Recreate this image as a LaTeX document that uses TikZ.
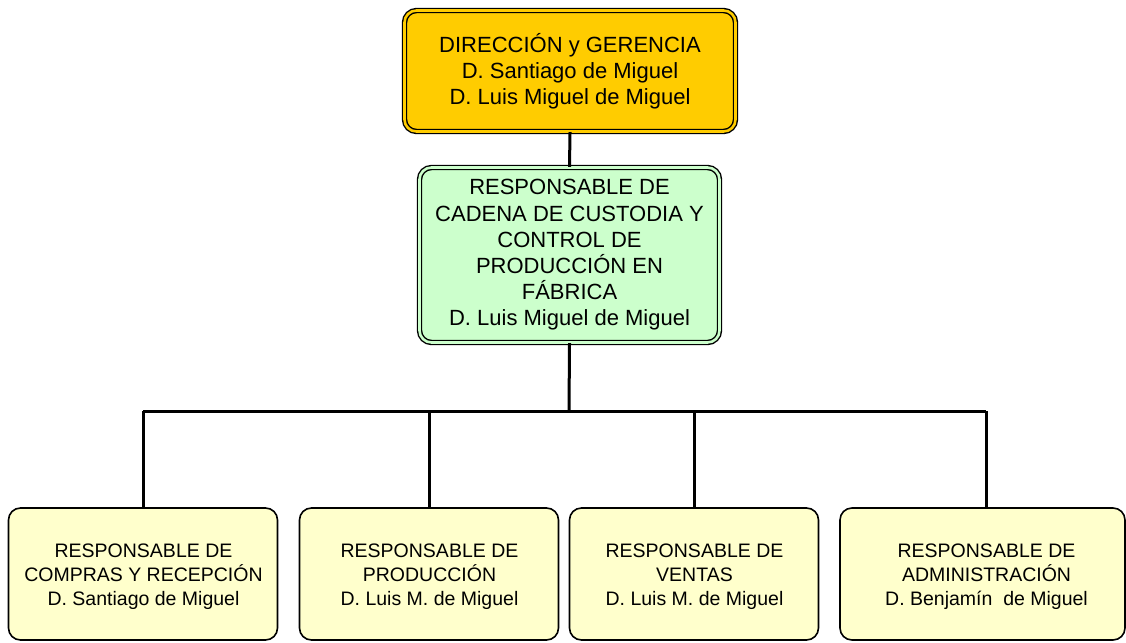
\documentclass[tikz,border=0pt]{standalone}
\usepackage{fontspec}
\setmainfont{Liberation Sans}
\definecolor{gold}{HTML}{FFCC00}
\definecolor{mint}{HTML}{CCFFCC}
\definecolor{cream}{HTML}{FFFFCC}
\begin{document}
\begin{tikzpicture}[x=1pt,y=-1pt,
  dbox/.style={draw=black, line width=1.4pt, double distance=2.6pt, rounded corners=12pt, align=center, inner sep=0pt},
  lowfont/.style={font=\fontsize{19.5}{24}\selectfont, align=center, inner sep=0pt},
  lowbox/.style={draw=black, line width=1.6pt, fill=cream, rounded corners=12pt, inner sep=0pt, minimum height=132pt},
  link/.style={line width=3pt}]
\useasboundingbox (0,0) rectangle (1126,642);
\clip (0,0) rectangle (1126,642);
\coordinate (hl) at (143,411);
\coordinate (h2) at (429,411);
\coordinate (h3) at (694,411);
\coordinate (hr) at (986,411);
\coordinate (hm) at (569,411);
\node[dbox, fill=gold, double=gold, minimum width=331pt, minimum height=121pt,
      font=\fontsize{22}{26}\selectfont] (top) at (570,71)
  {DIRECCIÓN y GERENCIA\\ D. Santiago de Miguel\\ D. Luis Miguel de Miguel};
\node[dbox, fill=mint, double=mint, minimum width=300pt, minimum height=175pt,
      font=\fontsize{22}{26.2}\selectfont] (mid) at (569.5,255)
  {RESPONSABLE DE\\ CADENA DE CUSTODIA Y\\ CONTROL DE\\ PRODUCCIÓN EN\\ FÁBRICA\\ D. Luis Miguel de Miguel};
\node[lowbox, minimum width=269pt] (b1) at (143,574) {};
\node[lowbox, minimum width=259pt] (b2) at (429,574) {};
\node[lowbox, minimum width=249pt] (b3) at (694,574) {};
\node[lowbox, minimum width=285pt] (b4) at (982.5,574) {};
\node[lowfont] (b1t) at (143.5,577)
  {RESPONSABLE DE\\ COMPRAS Y RECEPCIÓN\\ D. Santiago de Miguel};
\node[lowfont] (b2t) at (429.5,577)
  {RESPONSABLE DE\\ PRODUCCIÓN\\ D. Luis M. de Miguel};
\node[lowfont] (b3t) at (694.5,577)
  {RESPONSABLE DE\\ VENTAS\\ D. Luis M. de Miguel};
\node[lowfont] (b4t) at (986.5,577)
  {RESPONSABLE DE\\ ADMINISTRACIÓN\\ D. Benjamín\ \ de Miguel};
\draw[link] (top.south) -- (mid.north);
\draw[link] (mid.south) -- (hm);
\draw[link] (hl) -- (hr);
\draw[link] (hl) -- (hl |- b1.north);
\draw[link] (h2) -- (h2 |- b2.north);
\draw[link] (h3) -- (h3 |- b3.north);
\draw[link] (hr) -- (hr |- b4.north);
\end{tikzpicture}
\end{document}
